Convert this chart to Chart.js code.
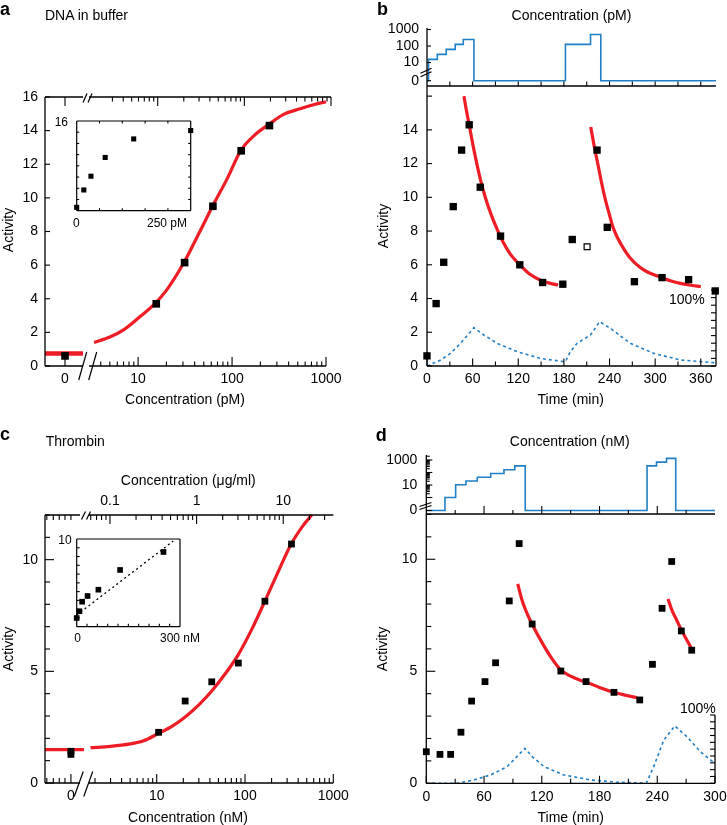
<!DOCTYPE html>
<html><head><meta charset="utf-8">
<script src="https://cdn.jsdelivr.net/npm/chart.js@4.4.1/dist/chart.umd.min.js"></script>
<style>
html,body{margin:0;padding:0;background:#fff;}
#wrap{position:relative;width:727px;height:825px;overflow:hidden;font-family:"Liberation Sans",Arial,Helvetica,sans-serif;color:#000;}
#wrap canvas{position:absolute;left:0;top:0;}
.t{position:absolute;white-space:nowrap;line-height:1;}
</style></head><body><div id="wrap"></div>
<script>
// ---------------- DATA ----------------
// Panel a: DNA in buffer
const aConc = [15.6, 31.25, 62.5, 125, 250];
const aAct = [3.7, 6.15, 9.5, 12.8, 14.3];
const aZeroAct = [0.6];
const aZeroFit = 0.75;
const aFitConc = [3.4, 5, 7, 10, 15, 20, 30, 45, 62, 88, 125, 175, 250, 350, 530, 750, 1000];
const aFitAct  = [1.4, 1.72, 2.15, 2.84, 3.7, 4.5, 6.05, 7.95, 9.5, 11.1, 12.85, 13.75, 14.4, 14.95, 15.3, 15.55, 15.72];
const aXTickLabels = [0, 10, 100, 1000];
const aYTickLabels = [0, 2, 4, 6, 8, 10, 12, 14, 16];

// Panel b: time course, DNA
const bTime = [0, 12, 22, 34.5, 45.5, 55.5, 70, 96.7, 122, 152, 178.6, 191, 223.6, 237, 272.7, 309, 344, 379];
const bAct  = [0.6, 3.7, 6.15, 9.45, 12.8, 14.3, 10.6, 7.7, 6.0, 4.95, 4.85, 7.5, 12.8, 8.22, 5.0, 5.24, 5.12, 4.45];
const bOpenTime = [210.5];
const bOpenAct = [7.07];
const bFit1Time = [48.6, 52, 55.5, 60, 65, 70, 77, 85, 92.3, 100, 110, 122, 135, 150, 160, 172.4];
const bFit1Act  = [16.0, 15.1, 14.3, 13.2, 12.1, 11.1, 9.95, 8.9, 8.1, 7.35, 6.6, 6.0, 5.45, 5.07, 4.93, 4.8];
const bFit2Time = [215.3, 220, 225, 228.9, 234.6, 240, 244.6, 250, 260, 267.4, 280, 289.2, 300, 309, 320, 333, 345, 360];
const bFit2Act  = [14.17, 13.0, 11.9, 11.0, 9.85, 8.95, 8.22, 7.65, 6.85, 6.39, 5.85, 5.59, 5.38, 5.24, 5.05, 4.9, 4.8, 4.7];
const bPctTime = [0, 18, 31, 44, 61.7, 74.8, 92.3, 118.5, 149, 180, 182, 188.6, 197.3, 215, 227, 241, 267.4, 298, 333, 380];
const bPct     = [0, 7.9, 16.7, 29.8, 50.4, 40.8, 29.8, 18.9, 10, 5.7, 5.7, 18.9, 29.8, 40.8, 58.3, 49.6, 29.8, 16.7, 7.9, 4.2];
const bConcTime = [0, 2, 13.5, 25.3, 37.1, 47.7, 61.7, 182, 215, 228.5, 380];
const bConcVal  = [0, 15.6, 31.25, 62.5, 125, 250, 0, 125, 500, 0, 0];
const bTopYTickLabels = [0, 10, 100, 1000];
const bXTickLabels = [0, 60, 120, 180, 240, 300, 360];
const bYTickLabels = [0, 2, 4, 6, 8, 10, 12, 14];

// Panel c: Thrombin
const cConc = [10.5, 21, 42, 84, 168, 336];
const cAct  = [2.27, 3.67, 4.53, 5.37, 8.14, 10.7];
const cZeroAct = [1.42, 1.28];
const cZeroFit = 1.49;
const cFitConc = [1.78, 3, 5, 7, 10.5, 15, 21, 30, 42, 60, 84, 120, 168, 240, 336, 450, 570];
const cFitAct  = [1.58, 1.64, 1.75, 1.88, 2.22, 2.55, 2.96, 3.5, 4.12, 4.9, 5.75, 6.9, 8.14, 9.5, 10.72, 11.5, 12.0];
const ciConc = [0, 10.5, 21, 42, 84, 168, 336];
const ciVal  = [0.99, 1.76, 2.85, 3.5, 4.22, 6.47, 8.52];
const ciFitConc = [0, 374];
const ciFitVal  = [1.33, 9.77];
const cXTickLabels = [0, 10, 100, 1000];
const cX2TickLabels = [0.1, 1, 10];
const cYTickLabels = [0, 5, 10];

// Panel d: time course, thrombin
const dTime = [0, 14.2, 25.3, 36, 47.1, 61, 72, 86.2, 96.5, 110, 139.8, 166, 195, 221.8, 235, 245, 255, 265, 275.8];
const dAct  = [1.41, 1.29, 1.29, 2.28, 3.67, 4.54, 5.38, 8.14, 10.7, 7.11, 5.01, 4.54, 4.06, 3.72, 5.31, 7.81, 9.9, 6.8, 5.94];
const dFit1Time = [95, 100, 105, 110, 120, 130, 140, 150, 160, 166, 180, 195, 210, 219];
const dFit1Act  = [8.9, 8.1, 7.55, 7.1, 6.3, 5.6, 5.05, 4.78, 4.6, 4.52, 4.28, 4.06, 3.9, 3.82];
const dFit2Time = [251.2, 255, 260, 265, 270, 275.8];
const dFit2Act  = [8.23, 7.75, 7.3, 6.85, 6.45, 6.0];
const dPctTime = [0, 32, 49.5, 66.8, 84, 102.5, 110, 122.4, 143, 170.6, 198, 228.7, 236.3, 246.7, 258.2, 271, 284.9, 300];
const dPct     = [0, 0, 4.9, 12.2, 24.4, 51.2, 39, 24.4, 12.2, 4.9, 1.5, 0.3, 24.4, 63, 84, 68, 46, 29];
const dConcTime = [0, 19.4, 30.5, 41.2, 53, 66.9, 80.7, 92, 102.8, 229.4, 239.2, 249.6, 259.2, 300];
const dConcVal  = [0, 1, 10.5, 21, 42, 84, 168, 336, 0, 336, 672, 1344, 0, 0];
const dTopYTickLabels = [0, 10, 1000];
const dXTickLabels = [0, 60, 120, 180, 240, 300];
const dYTickLabels = [0, 5, 10];

// ---------------- SETUP ----------------
const FONT = '"Liberation Sans", Arial, Helvetica, sans-serif';
Chart.defaults.font.family = FONT;
Chart.defaults.font.size = 14;
Chart.defaults.color = '#000';
const RED = '#ee1c25', BLUE = '#1f80c8';

class BrokenLogScale extends Chart.LinearScale {
  determineDataLimits() { this.min = this.options.linMin; this.max = this.options.logMax; }
  buildTicks() { return (this.options.tickValues || []).map(v => ({ value: v })); }
  getPixelForValue(v) {
    if (v === null || v === undefined || isNaN(v)) return NaN;
    const o = this.options;
    let d;
    if (v <= o.linMax) d = o.linF0 + (v - o.linMin) / (o.linMax - o.linMin) * (o.linF1 - o.linF0);
    else {
      const a = Math.log10(o.logMin), b = Math.log10(o.logMax);
      d = o.logF0 + (Math.log10(v) - a) / (b - a) * (o.logF1 - o.logF0);
    }
    return this.getPixelForDecimal(d);
  }
  getValueForPixel() { return 0; }
}
BrokenLogScale.id = 'brokenLog';
BrokenLogScale.defaults = {};
Chart.register(BrokenLogScale);

const A_X  = {linMin:-1, linMax:0.9, linF0:0, linF1:0.1329, logMin:3.0, logMax:1130, logF0:0.1538, logF1:1};
const A_X2 = {linMin:-0.1, linMax:0.09, linF0:0, linF1:0.1329, logMin:0.161, logMax:100, logF0:0.1538, logF1:1};
const C_X  = {linMin:-1, linMax:0.5, linF0:0, linF1:0.1349, logMin:1.71, logMax:1000, logF0:0.1526, logF1:1};
const C_X2 = {linMin:-0.1, linMax:0.05, linF0:0, linF1:0.1349, logMin:0.0573, logMax:37.8, logF0:0.1526, logF1:1};
const B_TOP_Y = {linMin:-0.5, linMax:0.5, linF0:0, linF1:0.183, logMin:2.66, logMax:1233, logF0:0.241, logF1:1};
const D_TOP_Y = {linMin:-0.5, linMax:0.5, linF0:0, linF1:0.1186, logMin:0.63, logMax:2512, logF0:0.2373, logF1:1};

const wrap = document.getElementById('wrap');
function makeCanvas() {
  const c = document.createElement('canvas');
  c.width = 727; c.height = 825; c.style.width = '727px'; c.style.height = '825px';
  wrap.appendChild(c); return c;
}
function zip(xs, ys) { return xs.map((x, i) => ({ x: x, y: ys[i] })); }
function fitW(w) { return s => { s.width = w; s.paddingTop = s.paddingBottom = s.paddingLeft = s.paddingRight = 0; }; }
function fitH(h) { return s => { s.height = h; s.paddingTop = s.paddingBottom = s.paddingLeft = s.paddingRight = 0; }; }
function setTicks(vals) { return s => { s.ticks = vals.map(v => ({ value: v })); }; }
function area(L, T, R, B, ex) {
  ex = ex || {};
  return { left: L - (ex.left || 0), top: T - (ex.top || 0), right: 727 - R - (ex.right || 0), bottom: 825 - B - (ex.bottom || 0) };
}
function range(a, b, s) { const o = []; for (let v = a; v <= b + 1e-9; v += s) o.push(+v.toFixed(6)); return o; }
function logTicks(lo, hi, major) {
  const out = [];
  for (let e = -3; e <= 4; e++) for (let m = 1; m <= 9; m++) {
    if ((m === 1) !== !!major) continue;
    const v = parseFloat((m * Math.pow(10, e)).toPrecision(4));
    if (v >= lo - 1e-9 && v <= hi + 1e-9) out.push(v);
  }
  return out;
}
function shown(pos, pad, extra) {
  return Object.assign({ position: pos, display: true, grid: { display: false, drawTicks: false }, border: { display: false },
    ticks: { autoSkip: false, maxRotation: 0, minRotation: 0, padding: pad, color: '#000', font: { size: 14 }, callback: v => String(v) } }, extra);
}
function hidden(type, min, max, extra) { return Object.assign({ type: type, min: min, max: max, display: false }, extra || {}); }
function baseOpts(padding, scales) {
  return { responsive: false, animation: false, devicePixelRatio: 1, events: [], layout: { padding: padding },
    plugins: { legend: { display: false }, tooltip: { enabled: false } }, scales: scales };
}
function decor(cfg) {
  return { id: 'decor', afterDatasetsDraw(chart) {
    const ctx = chart.ctx, ca = chart.chartArea;
    ctx.save(); ctx.strokeStyle = '#000'; ctx.lineCap = 'butt';
    (cfg.axes || []).forEach(ax => {
      const s = chart.scales[ax.scale];
      const horiz = ax.edge === 'top' || ax.edge === 'bottom';
      const at = { top: ca.top, bottom: ca.bottom, left: ca.left, right: ca.right }[ax.edge];
      const dir = { bottom: -1, top: 1, left: 1, right: -1 }[ax.edge];
      ctx.lineWidth = ax.lw || 1.3;
      if (ax.line !== false) (ax.segs || [[null, null]]).forEach(sg => {
        const p0 = sg[0] == null ? (horiz ? ca.left : ca.bottom) : s.getPixelForValue(sg[0]);
        const p1 = sg[1] == null ? (horiz ? ca.right : ca.top) : s.getPixelForValue(sg[1]);
        ctx.beginPath();
        if (horiz) { ctx.moveTo(p0, at); ctx.lineTo(p1, at); } else { ctx.moveTo(at, p0); ctx.lineTo(at, p1); }
        ctx.stroke();
      });
      ctx.lineWidth = ax.tw || 1.1;
      [[ax.minor, ax.minLen || 4.5], [ax.major, ax.majLen || 8]].forEach(pr => (pr[0] || []).forEach(v => {
        const p = s.getPixelForValue(v);
        ctx.beginPath();
        if (horiz) { ctx.moveTo(p, at); ctx.lineTo(p, at + dir * pr[1]); } else { ctx.moveTo(at, p); ctx.lineTo(at + dir * pr[1], p); }
        ctx.stroke();
      }));
    });
    ctx.lineWidth = 1.2;
    (cfg.breaks || []).forEach(b => {
      [-1, 1].forEach(k => {
        const o = k * b.gap / 2;
        ctx.beginPath();
        if (b.v) { ctx.moveTo(b.x - b.w / 2, b.y + o + b.h / 2); ctx.lineTo(b.x + b.w / 2, b.y + o - b.h / 2); }
        else { ctx.moveTo(b.x + o - b.w / 2, b.y + b.h / 2); ctx.lineTo(b.x + o + b.w / 2, b.y - b.h / 2); }
        ctx.stroke();
      });
    });
    ctx.restore();
  } };
}
const sq = (r) => ({ pointStyle: 'rect', pointRadius: r, pointBorderWidth: 0, pointBackgroundColor: '#000', showLine: false, clip: false });
const ln = (color, w, extra) => Object.assign({ showLine: true, borderColor: color, borderWidth: w, pointRadius: 0, fill: false, clip: false }, extra || {});

// ---------------- PANEL a ----------------
new Chart(makeCanvas(), {
  type: 'scatter',
  data: { datasets: [
    Object.assign({ data: zip(aConc, aAct).concat(aZeroAct.map(y => ({ x: 0, y: y }))) }, sq(5.4)),
    Object.assign({ data: zip(aFitConc, aFitAct) }, ln(RED, 3.2, { cubicInterpolationMode: 'monotone' })),
    Object.assign({ data: [{ x: A_X.linMin, y: aZeroFit }, { x: A_X.linMax, y: aZeroFit }] }, ln(RED, 4.5))
  ] },
  options: baseOpts(area(45, 97, 331, 366, { left: 42, bottom: 26 }), {
    x: shown('bottom', 5, Object.assign({ type: 'brokenLog', tickValues: aXTickLabels, afterFit: fitH(26) }, A_X)),
    x2: Object.assign({ type: 'brokenLog', position: 'top', display: false, axis: 'x' }, A_X2),
    y: shown('left', 7, { type: 'linear', min: 0, max: 16, afterBuildTicks: setTicks(aYTickLabels), afterFit: fitW(42) })
  }),
  plugins: [decor({
    axes: [
      { scale: 'y', edge: 'left', major: range(0, 16, 2), majLen: 5 },
      { scale: 'x', edge: 'bottom', segs: [[A_X.linMin, A_X.linMax], [A_X.logMin, 1000]],
        minor: logTicks(4, 1000, false), major: [0].concat(logTicks(10, 1000, true)), minLen: 4.5, majLen: 9 },
      { scale: 'x2', edge: 'top', segs: [[A_X2.linMin, A_X2.linMax], [A_X2.logMin, null]],
        minor: logTicks(0.3, 100, false), major: [0].concat(logTicks(1, 100, true)), minLen: 4.5, majLen: 9 }
    ],
    breaks: [{ x: 87.7, y: 366, w: 8, h: 28, gap: 10 }, { x: 87.5, y: 98, w: 4, h: 9, gap: 5 }]
  })]
});
// inset a
new Chart(makeCanvas(), {
  type: 'scatter',
  data: { datasets: [Object.assign({ data: zip([0].concat(aConc), aZeroAct.concat(aAct)) }, sq(3.6))] },
  options: baseOpts(area(76.7, 121, 190.7, 210.7), { x: hidden('linear', 0, 250), y: hidden('linear', 0, 16) }),
  plugins: [decor({ axes: [
    { scale: 'y', edge: 'left', major: range(2, 14, 2), majLen: 2.5, lw: 1.2 },
    { scale: 'y', edge: 'right', major: range(2, 14, 2), majLen: 2.5, lw: 1.2 },
    { scale: 'x', edge: 'bottom', major: range(50, 200, 50), majLen: 2.5, lw: 1.2 },
    { scale: 'x', edge: 'top', major: range(50, 200, 50), majLen: 2.5, lw: 1.2 }
  ] })]
});

// ---------------- PANEL b ----------------
new Chart(makeCanvas(), {
  type: 'scatter',
  data: { datasets: [Object.assign({ data: zip(bConcTime, bConcVal) }, ln(BLUE, 1.6, { stepped: 'before' }))] },
  options: baseOpts(area(427, 28, 716, 86, { left: 42 }), {
    x: hidden('linear', 0, 380),
    y: shown('left', 8, Object.assign({ type: 'brokenLog', tickValues: bTopYTickLabels, afterFit: fitW(42) }, B_TOP_Y))
  }),
  plugins: [decor({
    axes: [
      { scale: 'y', edge: 'left', major: [0, 10, 100, 1000], majLen: 4 },
      { scale: 'x', edge: 'bottom', major: range(30, 360, 30), majLen: 4.5 }
    ],
    breaks: [{ v: true, x: 426, y: 72.5, w: 11, h: 5, gap: 3.5 }]
  })]
});
new Chart(makeCanvas(), {
  type: 'scatter',
  data: { datasets: [
    Object.assign({ data: zip(bTime, bAct) }, sq(5.2)),
    Object.assign({ data: zip(bOpenTime, bOpenAct) }, sq(4.2), { pointBackgroundColor: '#fff', pointBorderColor: '#000', pointBorderWidth: 1.2 }),
    Object.assign({ data: zip(bFit1Time, bFit1Act) }, ln(RED, 3.2, { cubicInterpolationMode: 'monotone' })),
    Object.assign({ data: zip(bFit2Time, bFit2Act) }, ln(RED, 3.2, { cubicInterpolationMode: 'monotone' })),
    Object.assign({ data: zip(bPctTime, bPct), yAxisID: 'y2' }, ln(BLUE, 1.6, { borderDash: [3, 3] }))
  ] },
  options: baseOpts(area(427, 86, 716, 366, { left: 42, bottom: 26 }), {
    x: shown('bottom', 5, { type: 'linear', min: 0, max: 380, afterBuildTicks: setTicks(bXTickLabels), afterFit: fitH(26) }),
    y: shown('left', 9, { type: 'linear', min: 0, max: 16.6, afterBuildTicks: setTicks(bYTickLabels), afterFit: fitW(42) }),
    y2: hidden('linear', 0, 368.4, { position: 'right' })
  }),
  plugins: [decor({ axes: [
    { scale: 'y', edge: 'left', major: range(0, 16, 2), majLen: 5 },
    { scale: 'x', edge: 'bottom', minor: range(30, 330, 60), major: range(0, 360, 60), minLen: 4.5, majLen: 7.5 },
    { scale: 'y2', edge: 'right', segs: [[0, 100]], major: range(0, 100, 10), majLen: 5 }
  ] })]
});

// ---------------- PANEL c ----------------
const cLeftTicks = [-0.93, -0.68, -0.45, -0.23];
const cLeftTicks2 = [-0.093, -0.068, -0.045, -0.023, 0];
new Chart(makeCanvas(), {
  type: 'scatter',
  data: { datasets: [
    Object.assign({ data: zip(cConc, cAct).concat(cZeroAct.map(y => ({ x: 0, y: y }))) }, sq(4.8)),
    Object.assign({ data: zip(cFitConc, cFitAct) }, ln(RED, 3.2, { cubicInterpolationMode: 'monotone' })),
    Object.assign({ data: [{ x: C_X.linMin, y: cZeroFit }, { x: C_X.linMax, y: cZeroFit }] }, ln(RED, 3.3))
  ] },
  options: baseOpts(area(45, 515, 333.3, 783, { left: 42, top: 26, bottom: 26 }), {
    x: shown('bottom', 5, Object.assign({ type: 'brokenLog', tickValues: cXTickLabels, afterFit: fitH(26) }, C_X)),
    x2: shown('top', 5, Object.assign({ type: 'brokenLog', axis: 'x', tickValues: cX2TickLabels, afterFit: fitH(26) }, C_X2)),
    y: shown('left', 7, { type: 'linear', min: 0, max: 12, afterBuildTicks: setTicks(cYTickLabels), afterFit: fitW(42) })
  }),
  plugins: [decor({
    axes: [
      { scale: 'y', edge: 'left', minor: [1, 2, 3, 4, 6, 7, 8, 9, 11, 12], major: [0, 5, 10], minLen: 5, majLen: 9 },
      { scale: 'x', edge: 'bottom', segs: [[C_X.linMin, 0.35], [C_X.logMin, 1000]],
        minor: cLeftTicks.concat(logTicks(2, 1000, false)), major: [0].concat(logTicks(10, 1000, true)), minLen: 5, majLen: 9 },
      { scale: 'x2', edge: 'top', segs: [[C_X2.linMin, 0.035], [C_X2.logMin, null]],
        minor: cLeftTicks2.concat(logTicks(0.06, 37, false)), major: logTicks(0.1, 37, true), minLen: 5, majLen: 9 }
    ],
    breaks: [{ x: 83.5, y: 784, w: 9, h: 25, gap: 9.5 }, { x: 86, y: 515.5, w: 4, h: 8, gap: 5 }]
  })]
});
// inset c
new Chart(makeCanvas(), {
  type: 'scatter',
  data: { datasets: [
    Object.assign({ data: zip(ciConc, ciVal) }, sq(4)),
    Object.assign({ data: zip(ciFitConc, ciFitVal) }, ln('#000', 1.3, { borderDash: [2, 3] }))
  ] },
  options: baseOpts(area(76.7, 539, 180, 626.7), { x: hidden('linear', 0, 400), y: hidden('linear', 0, 10) }),
  plugins: [decor({ axes: [
    { scale: 'y', edge: 'left', major: range(1, 9, 1), majLen: 3, lw: 1.2 },
    { scale: 'y', edge: 'right', lw: 1.2 },
    { scale: 'x', edge: 'bottom', major: range(40, 360, 40), majLen: 3, lw: 1.2 },
    { scale: 'x', edge: 'top', lw: 1.2 }
  ] })]
});

// ---------------- PANEL d ----------------
new Chart(makeCanvas(), {
  type: 'scatter',
  data: { datasets: [Object.assign({ data: zip(dConcTime, dConcVal) }, ln(BLUE, 1.6, { stepped: 'before' }))] },
  options: baseOpts(area(426.3, 455, 715, 514, { left: 42 }), {
    x: hidden('linear', 0, 300),
    y: shown('left', 9, Object.assign({ type: 'brokenLog', tickValues: dTopYTickLabels, afterFit: fitW(42) }, D_TOP_Y))
  }),
  plugins: [decor({
    axes: [
      { scale: 'y', edge: 'left', minor: logTicks(2, 2500, false), major: [0].concat(logTicks(1, 1000, true)), minLen: 3.5, majLen: 6 },
      { scale: 'x', edge: 'bottom', minor: range(30, 270, 60), major: range(60, 240, 60), minLen: 4, majLen: 8 }
    ],
    breaks: [{ v: true, x: 425.5, y: 506, w: 12, h: 4, gap: 3 }]
  })]
});
new Chart(makeCanvas(), {
  type: 'scatter',
  data: { datasets: [
    Object.assign({ data: zip(dTime, dAct) }, sq(4.8)),
    Object.assign({ data: zip(dFit1Time, dFit1Act) }, ln(RED, 3.2, { cubicInterpolationMode: 'monotone' })),
    Object.assign({ data: zip(dFit2Time, dFit2Act) }, ln(RED, 3.2, { cubicInterpolationMode: 'monotone' })),
    Object.assign({ data: zip(dPctTime, dPct), yAxisID: 'y2' }, ln(BLUE, 1.6, { borderDash: [3, 3] }))
  ] },
  options: baseOpts(area(426.3, 514, 715, 783.3, { left: 42, bottom: 26 }), {
    x: shown('bottom', 5, { type: 'linear', min: 0, max: 300, afterBuildTicks: setTicks(dXTickLabels), afterFit: fitH(26) }),
    y: shown('left', 9, { type: 'linear', min: 0, max: 12.02, afterBuildTicks: setTicks(dYTickLabels), afterFit: fitW(42) }),
    y2: hidden('linear', 0, 394.3, { position: 'right' })
  }),
  plugins: [decor({ axes: [
    { scale: 'y', edge: 'left', minor: [1, 2, 3, 4, 6, 7, 8, 9, 11, 12], major: [0, 5, 10], minLen: 5, majLen: 9 },
    { scale: 'x', edge: 'bottom', minor: range(30, 270, 60), major: range(0, 300, 60), minLen: 4.5, majLen: 7.5 },
    { scale: 'y2', edge: 'right', segs: [[0, 100]], major: range(0, 100, 10), majLen: 5 }
  ] })]
});

// ---------------- TEXT ----------------
function txt(str, x, base, o) {
  o = o || {};
  const size = o.size || 14;
  const d = document.createElement('div');
  d.className = 't'; d.textContent = str;
  d.style.fontSize = size + 'px';
  if (o.bold) d.style.fontWeight = 'bold';
  d.style.top = (base - 0.8465 * size) + 'px';
  d.style.left = x + 'px';
  if (o.align === 'center') d.style.transform = 'translateX(-50%)';
  if (o.align === 'right') d.style.transform = 'translateX(-100%)';
  wrap.appendChild(d);
}
function vtxt(str, cx, cy, size) {
  const d = document.createElement('div');
  d.className = 't'; d.textContent = str; d.style.fontSize = (size || 14) + 'px';
  d.style.left = cx + 'px'; d.style.top = cy + 'px';
  d.style.transform = 'translate(-50%,-50%) rotate(-90deg)';
  wrap.appendChild(d);
}
txt('a', 0, 15, { size: 18, bold: true });
txt('DNA in buffer', 45, 20);
txt('b', 377, 15, { size: 18, bold: true });
txt('Concentration (pM)', 571.5, 20, { align: 'center' });
vtxt('Activity', 7.5, 230);
txt('Concentration (pM)', 185, 404, { align: 'center' });
vtxt('Activity', 383, 226);
txt('Time (min)', 570.7, 404, { align: 'center' });
txt('100%', 704.7, 304, { align: 'right' });
txt('c', 0, 440, { size: 18, bold: true });
txt('Thrombin', 45.7, 446);
txt('Concentration (\u03bcg/ml)', 188.3, 485, { align: 'center' });
vtxt('Activity', 7.5, 649);
txt('Concentration (nM)', 188, 821.7, { align: 'center' });
txt('d', 375.7, 441.7, { size: 18, bold: true });
txt('Concentration (nM)', 569.7, 446, { align: 'center' });
vtxt('Activity', 381.5, 649);
txt('Time (min)', 570.7, 821.7, { align: 'center' });
txt('100%', 715.7, 713.3, { align: 'right' });
// inset labels
txt('16', 68, 126, { size: 12, align: 'right' });
txt('0', 76.3, 227.6, { size: 12, align: 'center' });
txt('250 pM', 147, 227.6, { size: 12 });
txt('10', 71.7, 544.3, { size: 12, align: 'right' });
txt('0', 77.5, 642.6, { size: 12, align: 'center' });
txt('300 nM', 160, 642.6, { size: 12 });
</script></body></html>
